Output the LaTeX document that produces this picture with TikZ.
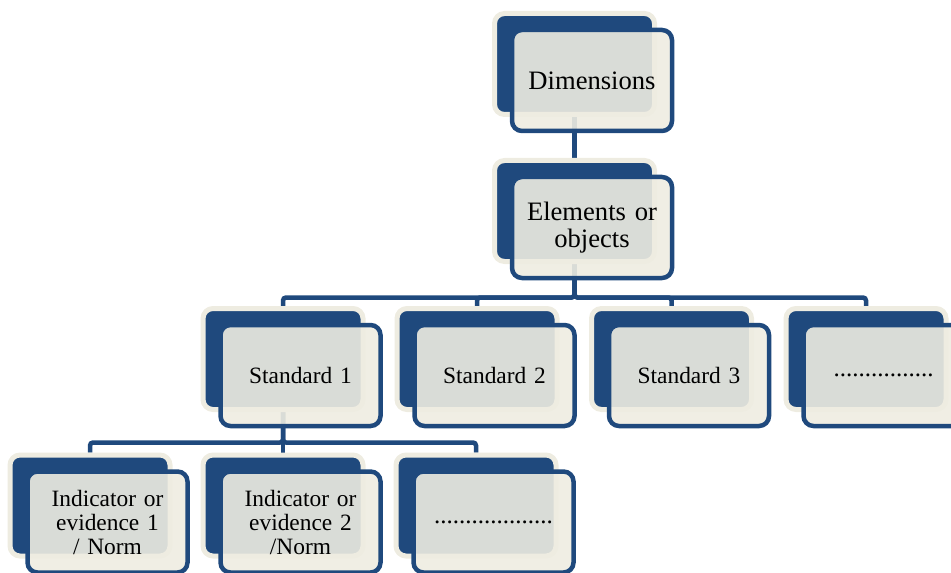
\documentclass[tikz,border=0pt]{standalone}
\usepackage{fontspec}
\setmainfont{Liberation Serif}
\usetikzlibrary{positioning,calc,backgrounds}
\definecolor{hierblue}{RGB}{31,73,125}
\definecolor{hiercream}{RGB}{238,236,225}
\tikzset{
  hback/.style={draw=hiercream, fill=hierblue, line width=2.5pt, rounded corners=5pt,
    minimum width=80pt, minimum height=50.5pt, inner sep=0pt},
  hfront/.style={draw=hierblue, fill=hiercream, fill opacity=0.9, text opacity=1,
    line width=2.25pt, rounded corners=5pt, minimum width=80pt, minimum height=50.5pt,
    inner sep=0pt, align=center, text width=72pt},
  bigtxt/.style={font=\fontsize{13.3}{13.3}\selectfont},
  smalltxt/.style={font=\fontsize{11.7}{12}\selectfont},
  dottxt/.style={font=\fontsize{12.5}{12.5}\selectfont},
  hconn/.style={draw=hierblue, line width=2.25pt, rounded corners=1.5pt}
}

\begin{document}
\begin{tikzpicture}[x=0.5pt,y=0.5pt]
  \useasboundingbox (0,0) rectangle (951,-572);
  \clip (0,0) rectangle (951,-572);

  % back boxes
  \node[hback] (dimB)  at (574.5,-64) {};
  \node[hback] (elemB) at (574.5,-211) {};
  \node[hback] (std1B) at (283,-359) {};
  \node[hback] (std2B) at (477,-359) {};
  \node[hback] (std3B) at (671.5,-359) {};
  \node[hback] (std4B) at (866,-359) {};
  \node[hback] (ind1B) at (90,-505.5) {};
  \node[hback] (ind2B) at (283,-505.5) {};
  \node[hback] (ind3B) at (476,-505.5) {};

  % connectors, behind the boxes
  \begin{pgfonlayer}{background}
    \draw[hconn] (dimB.south) -- (elemB.north);
    \draw[hconn] (elemB.south) -- ++(0,-33.5) -| (std1B.north);
    \draw[hconn] (elemB.south) -- ++(0,-33.5) -| (std2B.north);
    \draw[hconn] (elemB.south) -- ++(0,-33.5) -| (std3B.north);
    \draw[hconn] (elemB.south) -- ++(0,-33.5) -| (std4B.north);
    \draw[hconn] (std1B.south) -- ++(0,-30.5) -| (ind1B.north);
    \draw[hconn] (std1B.south) -- ++(0,-30.5) -| (ind2B.north);
    \draw[hconn] (std1B.south) -- ++(0,-30.5) -| (ind3B.north);
  \end{pgfonlayer}

  % front boxes with the texts
  \node[hfront,bigtxt] (dim)  at ($(dimB)+(17.5,-16.5)$) {Dimensions};
  \node[hfront,bigtxt] (elem) at ($(elemB)+(17.5,-16.5)$) {Elements or\\objects};
  \node[hfront,smalltxt] (std1) at ($(std1B)+(17.5,-16.5)$) {Standard 1};
  \node[hfront,smalltxt] (std2) at ($(std2B)+(17.5,-16.5)$) {Standard 2};
  \node[hfront,smalltxt] (std3) at ($(std3B)+(17.5,-16.5)$) {Standard 3};
  \node[hfront,dottxt] (std4) at ($(std4B)+(17.5,-16.5)$) {................};
  \node[hfront,smalltxt] (ind1) at ($(ind1B)+(17.5,-16.5)$) {Indicator or\\evidence 1\\/ Norm};
  \node[hfront,smalltxt] (ind2) at ($(ind2B)+(17.5,-16.5)$) {Indicator or\\evidence 2\\/Norm};
  \node[hfront,dottxt] (ind3) at ($(ind3B)+(17.5,-16.5)$) {...................};
\end{tikzpicture}
\end{document}
